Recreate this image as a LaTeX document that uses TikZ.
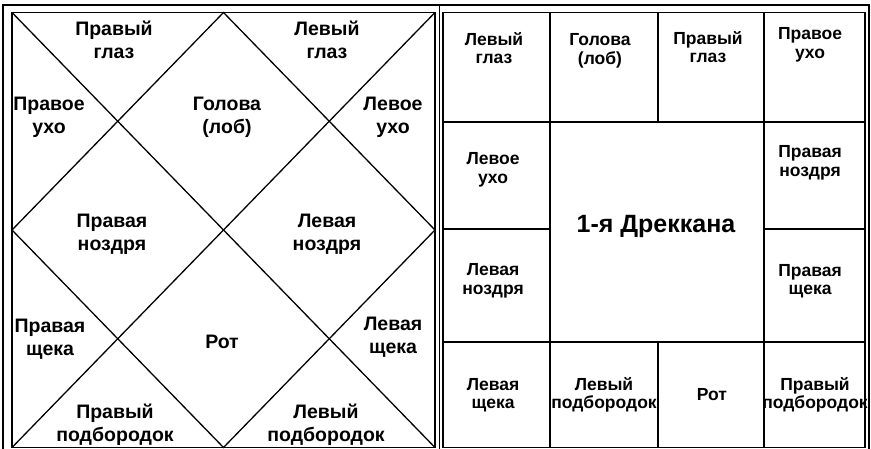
\documentclass[tikz,border=0pt]{standalone}
\usepackage{fontspec}
\setmainfont{Liberation Sans}
\begin{document}
\begin{tikzpicture}[x=1pt,y=-1pt,
  lab/.style={font=\fontsize{19.5}{23}\selectfont\bfseries, align=center, inner sep=0pt},
  labr/.style={font=\fontsize{17.5}{18.5}\selectfont\bfseries, align=center, inner sep=0pt},
  title/.style={font=\fontsize{25}{27}\selectfont\bfseries, inner sep=0pt},
  gridline/.style={line width=1.3pt},
  frameline/.style={line width=1.7pt}]
\useasboundingbox (0,0) rectangle (871,449);
\fill[white] (0,0) rectangle (871,449);
% outer frame
\draw[frameline] (3,449) -- (3,5) -- (869,5) -- (869,449);
\draw[frameline] (439.5,5) -- (439.5,449);
% left chart (North Indian style)
\coordinate (LA) at (12,12.5);
\coordinate (LB) at (435,12.5);
\coordinate (LC) at (435,447.5);
\coordinate (LD) at (12,447.5);
\coordinate (LT) at (223.5,12.5);
\coordinate (LR) at (435,230);
\coordinate (LM) at (223.5,447.5);
\coordinate (LL) at (12,230);
\draw[gridline] (LA) rectangle (LC);
\draw[gridline] (LA) -- (LC);
\draw[gridline] (LB) -- (LD);
\draw[gridline] (LT) -- (LR) -- (LM) -- (LL) -- cycle;
% right chart (South Indian style)
\draw[gridline] (443,12.5) rectangle (865,447.5);
\draw[gridline] (443,122) -- (865,122);
\draw[gridline] (443,342) -- (865,342);
\draw[gridline] (443,229) -- (550,229);
\draw[gridline] (764,229) -- (865,229);
\draw[gridline] (550,12.5) -- (550,447.5);
\draw[gridline] (764,12.5) -- (764,447.5);
\draw[gridline] (658,12.5) -- (658,122);
\draw[gridline] (658,342) -- (658,447.5);
% left chart labels
\node[lab] (l1) at (114,40) {Правый\\глаз};
\node[lab] (l2) at (327,40) {Левый\\глаз};
\node[lab] (l3) at (49,117) {Правое\\ухо};
\node[lab] (l4) at (227,117) {Голова\\(лоб)};
\node[lab] (l5) at (393,117) {Левое\\ухо};
\node[lab] (l6) at (112,234) {Правая\\ноздря};
\node[lab] (l7) at (327,234) {Левая\\ноздря};
\node[lab] (l8) at (50,339) {Правая\\щека};
\node[lab] (l9) at (222,342) {Рот};
\node[lab] (l10) at (393,337) {Левая\\щека};
\node[lab] (l11) at (115,425) {Правый\\подбородок};
\node[lab] (l12) at (326,425) {Левый\\подбородок};
% right chart labels
\node[labr] (r1) at (494,48) {Левый\\глаз};
\node[labr] (r2) at (600,51) {Голова\\(лоб)};
\node[labr] (r3) at (708,47) {Правый\\глаз};
\node[labr] (r4) at (810,45) {Правое\\ухо};
\node[labr] (r5) at (493,170) {Левое\\ухо};
\node[labr] (r6) at (810,163) {Правая\\ноздря};
\node[title] (rc) at (656,226) {1-я Дреккана};
\node[labr] (r7) at (493,281) {Левая\\ноздря};
\node[labr] (r8) at (810,281) {Правая\\щека};
\node[labr] (r9) at (493,395) {Левая\\щека};
\node[labr] (r10) at (604,395) {Левый\\подбородок};
\node[labr] (r11) at (712,395) {Рот};
\node[labr] (r12) at (815,395) {Правый\\подбородок};
\end{tikzpicture}
\end{document}
